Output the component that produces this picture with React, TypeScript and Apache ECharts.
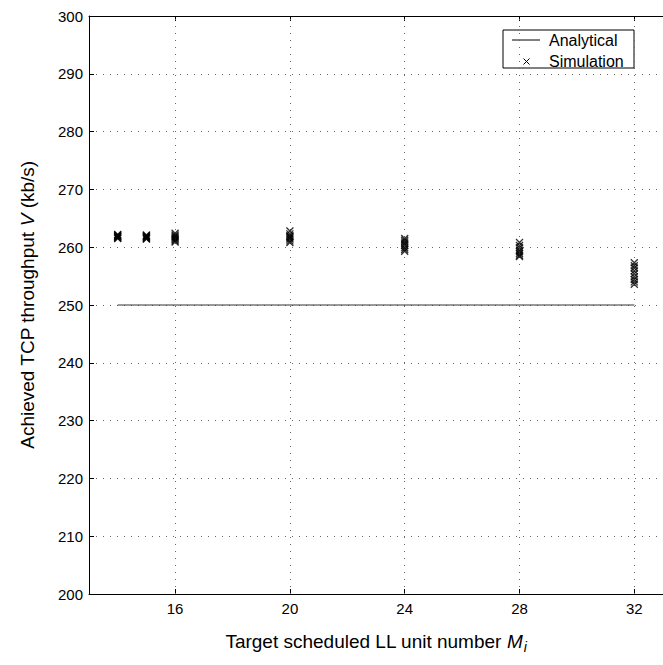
import React, { useEffect, useRef } from "react";
import * as echarts from "echarts";

const xTicks = [16, 20, 24, 28, 32];
const analyticalX = [14, 32];
const analyticalV = [250, 250];
const simX = [14, 15, 16, 20, 24, 28, 32];
const simRuns = [
  [261.5, 261.6, 261.7, 261.8, 261.9, 262.0, 262.1, 262.2],
  [261.4, 261.5, 261.6, 261.7, 261.8, 261.9, 262.0, 262.1],
  [260.9, 261.1, 261.3, 261.5, 261.7, 261.9, 262.1, 262.4],
  [260.8, 261.1, 261.4, 261.6, 261.8, 262.0, 262.3, 262.8],
  [259.3, 259.6, 259.9, 260.3, 260.6, 260.9, 261.2, 261.5],
  [258.4, 258.6, 258.9, 259.2, 259.5, 259.9, 260.3, 260.8],
  [253.6, 254.0, 254.4, 254.9, 255.4, 255.9, 256.4, 256.8, 257.3],
];
const yMin = 200;
const yMax = 300;
const yStep = 10;
const xMin = 13;
const xMax = 33;

const FONT = "Liberation Sans, Arial, sans-serif";

export default function App() {
  const ref = useRef<HTMLDivElement>(null);
  useEffect(() => {
    if (!ref.current) return;
    const chart = echarts.init(ref.current, null, { renderer: "svg" });
    const simData: number[][] = [];
    simX.forEach((x, i) => simRuns[i].forEach((v) => simData.push([x, v])));
    const grid = "#666";
    chart.setOption({
      animation: false,
      backgroundColor: "#fff",
      textStyle: { fontFamily: FONT },
      grid: { left: 89, top: 16, width: 576.5, height: 578, containLabel: false },
      xAxis: [
        {
          type: "value",
          min: xMin,
          max: xMax,
          position: "bottom",
          axisLine: { show: true, onZero: false, lineStyle: { color: "#000", width: 1 } },
          axisTick: { show: true, inside: true, length: 5, customValues: xTicks, lineStyle: { color: "#000" } },
          axisLabel: { show: true, customValues: xTicks, margin: 7, color: "#000", fontSize: 15, fontFamily: FONT },
          splitLine: { show: false },
          name: "{n|Target scheduled LL unit number }{i|M}{s|i}",
          nameLocation: "middle",
          nameGap: 34,
          nameTextStyle: {
            color: "#000",
            fontFamily: FONT,
            rich: {
              n: { fontSize: 19, fontFamily: FONT, color: "#000" },
              i: { fontSize: 19, fontStyle: "italic", fontFamily: FONT, color: "#000" },
              s: { fontSize: 14, fontStyle: "italic", fontFamily: FONT, color: "#000", padding: [12, 0, 0, 1] },
            },
          },
        },
        {
          type: "value",
          min: xMin,
          max: xMax,
          position: "top",
          axisLine: { show: true, onZero: false, lineStyle: { color: "#000", width: 1 } },
          axisTick: { show: true, inside: true, length: 5, customValues: xTicks, lineStyle: { color: "#000" } },
          axisLabel: { show: false },
          splitLine: { show: false },
        },
      ],
      yAxis: {
        type: "value",
        min: yMin,
        max: yMax,
        interval: yStep,
        axisLine: { show: true, onZero: false, lineStyle: { color: "#000", width: 1 } },
        axisTick: { show: true, inside: true, length: 5, lineStyle: { color: "#000" } },
        axisLabel: { margin: 6, color: "#000", fontSize: 15, fontFamily: FONT },
        splitLine: { show: true, lineStyle: { color: grid, width: 1, type: [1, 6] } },
        name: "{n|Achieved TCP throughput }{i|V}{n| (kb/s)}",
        nameLocation: "middle",
        nameGap: 52,
        nameTextStyle: {
          color: "#000",
          fontFamily: FONT,
          rich: {
            n: { fontSize: 19, fontFamily: FONT, color: "#000" },
            i: { fontSize: 19, fontStyle: "italic", fontFamily: FONT, color: "#000" },
          },
        },
      },
      series: [
        {
          name: "Analytical",
          type: "line",
          data: analyticalX.map((x, i) => [x, analyticalV[i]]),
          showSymbol: false,
          lineStyle: { color: "#333", width: 1 },
          z: 3,
          markLine: {
            silent: true,
            symbol: "none",
            label: { show: false },
            lineStyle: { color: grid, width: 1, type: [1, 6] },
            data: xTicks.map((v) => ({ xAxis: v })),
            z: 1,
          },
        },
        {
          name: "Simulation",
          type: "scatter",
          data: simData,
          symbol: "path://M0,0L10,10M10,0L0,10",
          symbolSize: 7,
          itemStyle: { color: "none", borderColor: "#000", borderWidth: 1.3 },
          z: 4,
        },
      ],
      graphic: [
        {
          type: "group",
          z: 100,
          children: [
            { type: "rect", shape: { x: 503, y: 30, width: 131, height: 38 }, style: { fill: "#fff", stroke: "#000", lineWidth: 1 } },
            { type: "line", shape: { x1: 512, y1: 40, x2: 540, y2: 40 }, style: { stroke: "#000", lineWidth: 1 } },
            { type: "text", x: 549, y: 40, style: { text: "Analytical", fontSize: 16, fontFamily: FONT, fill: "#000", verticalAlign: "middle" } },
            { type: "line", shape: { x1: 523.5, y1: 58.5, x2: 529.5, y2: 64.5 }, style: { stroke: "#000", lineWidth: 1 } },
            { type: "line", shape: { x1: 529.5, y1: 58.5, x2: 523.5, y2: 64.5 }, style: { stroke: "#000", lineWidth: 1 } },
            { type: "text", x: 549, y: 61.5, style: { text: "Simulation", fontSize: 16, fontFamily: FONT, fill: "#000", verticalAlign: "middle" } },
          ],
        },
      ],
    });
    return () => chart.dispose();
  }, []);
  return (
    <div
      ref={ref}
      style={{ position: "absolute", left: 0, top: 0, width: 663, height: 665, background: "#fff" }}
    />
  );
}
